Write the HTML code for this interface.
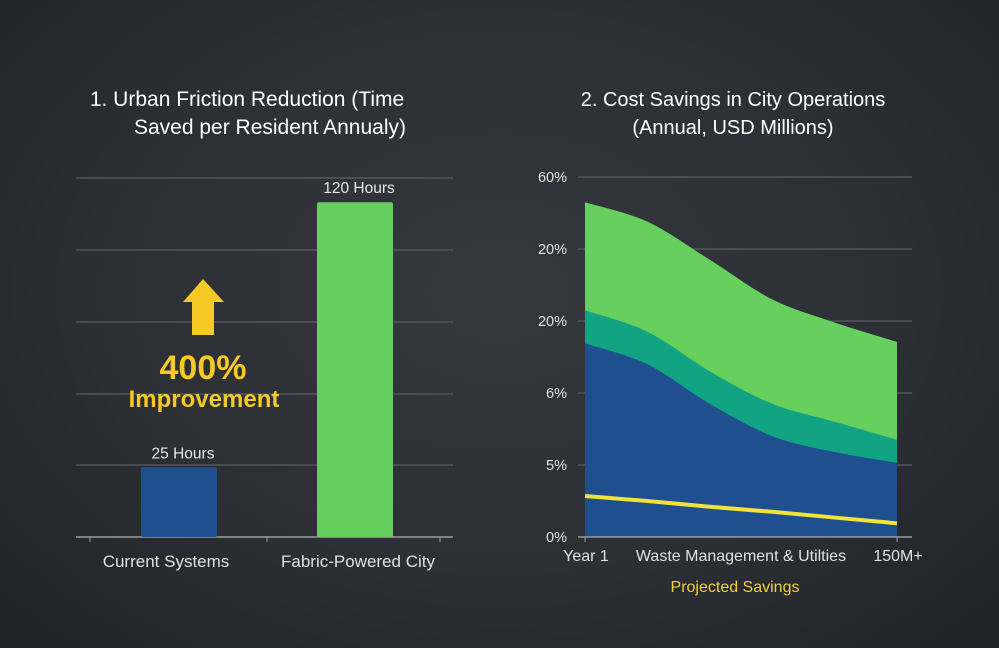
<!DOCTYPE html>
<html><head><meta charset="utf-8"><style>
body{margin:0;width:999px;height:648px;overflow:hidden;background:#2b2e33;font-family:"Liberation Sans",sans-serif}
#bg{position:absolute;left:0;top:0;width:999px;height:648px;background:radial-gradient(ellipse at 50% 45%,#34383d 0%,#2c2f34 55%,#1f2125 100%)}
svg{position:absolute;left:0;top:0}
</style></head><body>
<div id="bg"></div>
<svg width="999" height="648">
<g id="left"></g>
<g id="right"></g>
</svg>
<script>
// Left chart data
const barCats=["Current Systems","Fabric-Powered City"];
const barVals=[25,120];
const barLabels=["25 Hours","120 Hours"];
// Right chart data
const areaCats=["Year 1","Waste Management & Utilties","150M+"];
const yTicks=["0%","5%","6%","20%","20%","60%"];
const greenTop=[4.65,4.38,3.85,3.3,2.98,2.71];
const tealTop=[3.15,2.85,2.3,1.85,1.6,1.35];
const blueTop=[2.69,2.4,1.85,1.4,1.18,1.03];
const yellowLine=[0.57,0.5,0.42,0.35,0.27,0.19];

const NS="http://www.w3.org/2000/svg";
function mk(p,t,a,txt){const e=document.createElementNS(NS,t);for(const k in a)e.setAttribute(k,a[k]);if(txt!=null)e.textContent=txt;p.appendChild(e);return e;}
const L=document.getElementById('left'),R=document.getElementById('right');

// LEFT
let t=mk(L,'text',{x:247,y:106,fill:'#fff','font-size':21,'text-anchor':'middle'},'1. Urban Friction Reduction (Time');

t=mk(L,'text',{x:270,y:134,fill:'#fff','font-size':21,'text-anchor':'middle'},'Saved per Resident Annualy)');

const ly=v=>537-v*2.79;
[178,250,322,394,465].forEach(y=>{const g=mk(L,'line',{x1:76,x2:453,y1:y,y2:y,stroke:'#5a5e63','stroke-width':1.2});});
let ax=mk(L,'line',{x1:76,x2:453,y1:537,y2:537,stroke:'#9a9ea3','stroke-width':1.5});
[90,267,440].forEach(x=>{const k=mk(L,'line',{x1:x,x2:x,y1:537,y2:542,stroke:'#9a9ea3'});});
const bcx=[179,355],bcol=['#1f4f8e','#66cf5d'];
barVals.forEach((v,i)=>{
 const b=mk(L,'rect',{x:bcx[i]-38,y:ly(v),width:76,height:537-ly(v),fill:bcol[i],rx:2});
 
 const lb=mk(L,'text',{x:bcx[i]+4,y:ly(v)-9,fill:'#e8e8e8','font-size':15.5,'text-anchor':'middle'},barLabels[i]);
 
 const c=mk(L,'text',{x:[166,358][i],y:567,fill:'#e0e0e0','font-size':17,'text-anchor':'middle'},barCats[i]);
 
});
let ar=mk(L,'polygon',{points:'203,279 224,302 214,302 214,335 192,335 192,302 183,302',fill:'#f5c926'});

t=mk(L,'text',{x:203,y:379,fill:'#f5c926','font-size':34,'font-weight':'bold','text-anchor':'middle'},'400%');

t=mk(L,'text',{x:204,y:407,fill:'#f5c926','font-size':24,'font-weight':'bold','text-anchor':'middle'},'Improvement');


// RIGHT
t=mk(R,'text',{x:733,y:106,fill:'#fff','font-size':20,'text-anchor':'middle'},'2. Cost Savings in City Operations');

t=mk(R,'text',{x:733,y:134,fill:'#fff','font-size':20,'text-anchor':'middle'},'(Annual, USD Millions)');

const ry=v=>537-v*72, rx=i=>585+i*(897-585)/5;
yTicks.forEach((s,i)=>{
 if(i>0){const g=mk(R,'line',{x1:578,x2:912,y1:ry(i),y2:ry(i),stroke:'#5a5e63','stroke-width':1.2});}
 const l=mk(R,'text',{x:567,y:ry(i)+5,fill:'#e0e0e0','font-size':14.5,'text-anchor':'end'},s);
 
});
function smooth(arr){const P=arr.map((v,i)=>[rx(i),ry(v)]);let d='M'+P[0][0]+','+P[0][1];
 for(let i=0;i<P.length-1;i++){const p0=P[Math.max(0,i-1)],p1=P[i],p2=P[i+1],p3=P[Math.min(P.length-1,i+2)];
  const c1=[p1[0]+(p2[0]-p0[0])/6,p1[1]+(p2[1]-p0[1])/6],c2=[p2[0]-(p3[0]-p1[0])/6,p2[1]-(p3[1]-p1[1])/6];
  d+=' C'+c1[0]+','+c1[1]+' '+c2[0]+','+c2[1]+' '+p2[0]+','+p2[1];}
 return d;}
function area(arr,col,name){const d=smooth(arr)+' L'+rx(5)+',537 L'+rx(0)+',537 Z';const p=mk(R,'path',{d:d,fill:col});}
area(greenTop,'#66cf5d','area-green');
area(tealTop,'#12a383','area-teal');
area(blueTop,'#1f4f8e','area-blue');
const yl=mk(R,'path',{d:yellowLine.map((v,i)=>(i?'L':'M')+rx(i)+','+ry(v)).join(' '),stroke:'#f2e23a','stroke-width':4,fill:'none'});

ax=mk(R,'line',{x1:578,x2:912,y1:537,y2:537,stroke:'#9a9ea3','stroke-width':1.5});
[585,897].forEach(x=>{const k=mk(R,'line',{x1:x,x2:x,y1:537,y2:542,stroke:'#9a9ea3'});});
[[586,areaCats[0]],[741,areaCats[1]],[898,areaCats[2]]].forEach(a=>{
 const l=mk(R,'text',{x:a[0],y:561,fill:'#e0e0e0','font-size':16,'text-anchor':'middle'},a[1]);
 
});
t=mk(R,'text',{x:735,y:592,fill:'#f2d03a','font-size':16,'text-anchor':'middle'},'Projected Savings');

</script>
</body></html>
